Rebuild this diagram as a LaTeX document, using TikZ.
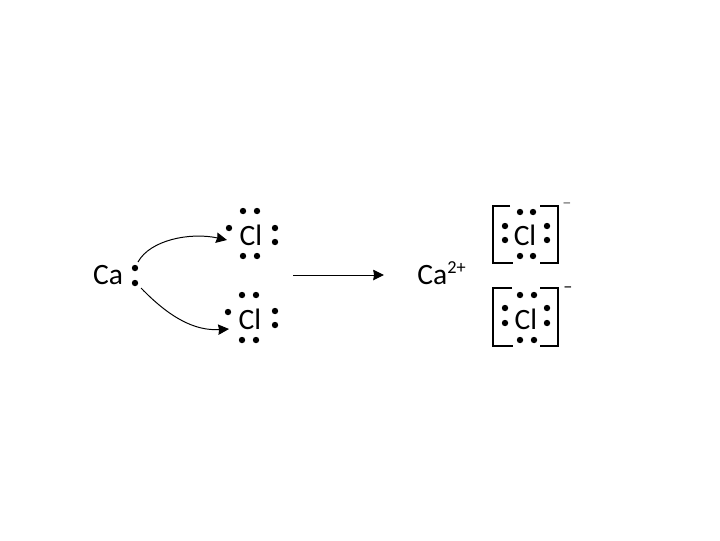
\documentclass[tikz,border=0pt]{standalone}
\usepackage{fontspec}
\setmainfont{Carlito}
\usetikzlibrary{arrows.meta}
\begin{document}
\begin{tikzpicture}[x=0.025cm,y=-0.025cm,>=Stealth]
\tikzstyle{el}=[circle,fill=black,inner sep=0pt,minimum size=0.16cm]
\tikzstyle{sym}=[inner sep=0pt,font=\fontsize{21}{21}\selectfont]
\tikzstyle{brk}=[line width=0.8pt]
\tikzstyle{arr}=[->,line width=0.7pt,>={Stealth[length=0.27cm,width=0.26cm,inset=0.6pt]}]
\tikzstyle{chg}=[inner sep=0pt,font=\fontsize{13}{13}\selectfont]
\useasboundingbox (0,0) rectangle (720,540);
% left side
\node[sym] (Ca) at (108,275) {Ca};
\node[el] (ca1) at (135,268) {}; \node[el] (ca2) at (135,283) {};
\node[sym] (ClA) at (251,235) {Cl}; \node[sym] (ClB) at (250,319) {Cl};
\foreach \x/\y in {243/211,257/211,229/228,275/228,275/242,243/256,257/256,242/295,256/295,228/312,275/311,275/325,242/340,256/340}
  \node[el] at (\x,\y) {};
\coordinate (a1) at (138,262); \coordinate (a2) at (227,240);
\coordinate (b1) at (141,288); \coordinate (b2) at (229,329);
\draw[arr] (a1) .. controls (150,240) and (190,232) .. (a2);
\draw[arr] (b1) .. controls (170,318) and (195,331) .. (b2);
% reaction arrow
\coordinate (c1) at (293,275); \coordinate (c2) at (384,275);
\draw[arr] (c1) -- (c2);
% right side
\node[sym,anchor=west] (CaP) at (417,275) {Ca};
\node[chg,anchor=west] (two) at (447,268) {2+};
\node[sym] (ClC) at (525,235) {Cl}; \node[sym] (ClD) at (526,319) {Cl};
\foreach \x/\y in {520/212,533/212,505/226,505/240,547/226,547/240,520/256,533/256,520/295,534/295,505/308,505/323,547/308,547/323,520/340,534/340}
  \node[el] at (\x,\y) {};
\draw[brk] (510,206) -- (493,206) -- (493,263) -- (513,263);
\draw[brk] (540,206) -- (558,206) -- (558,263) -- (540,263);
\draw[brk] (512,288) -- (493,288) -- (493,346) -- (513,346);
\draw[brk] (540,288) -- (558,288) -- (558,346) -- (540,346);
\node[chg,text=black!60] (mA) at (567,206) {–};
\node[chg] (mB) at (568,290) {–};
\end{tikzpicture}
\end{document}
